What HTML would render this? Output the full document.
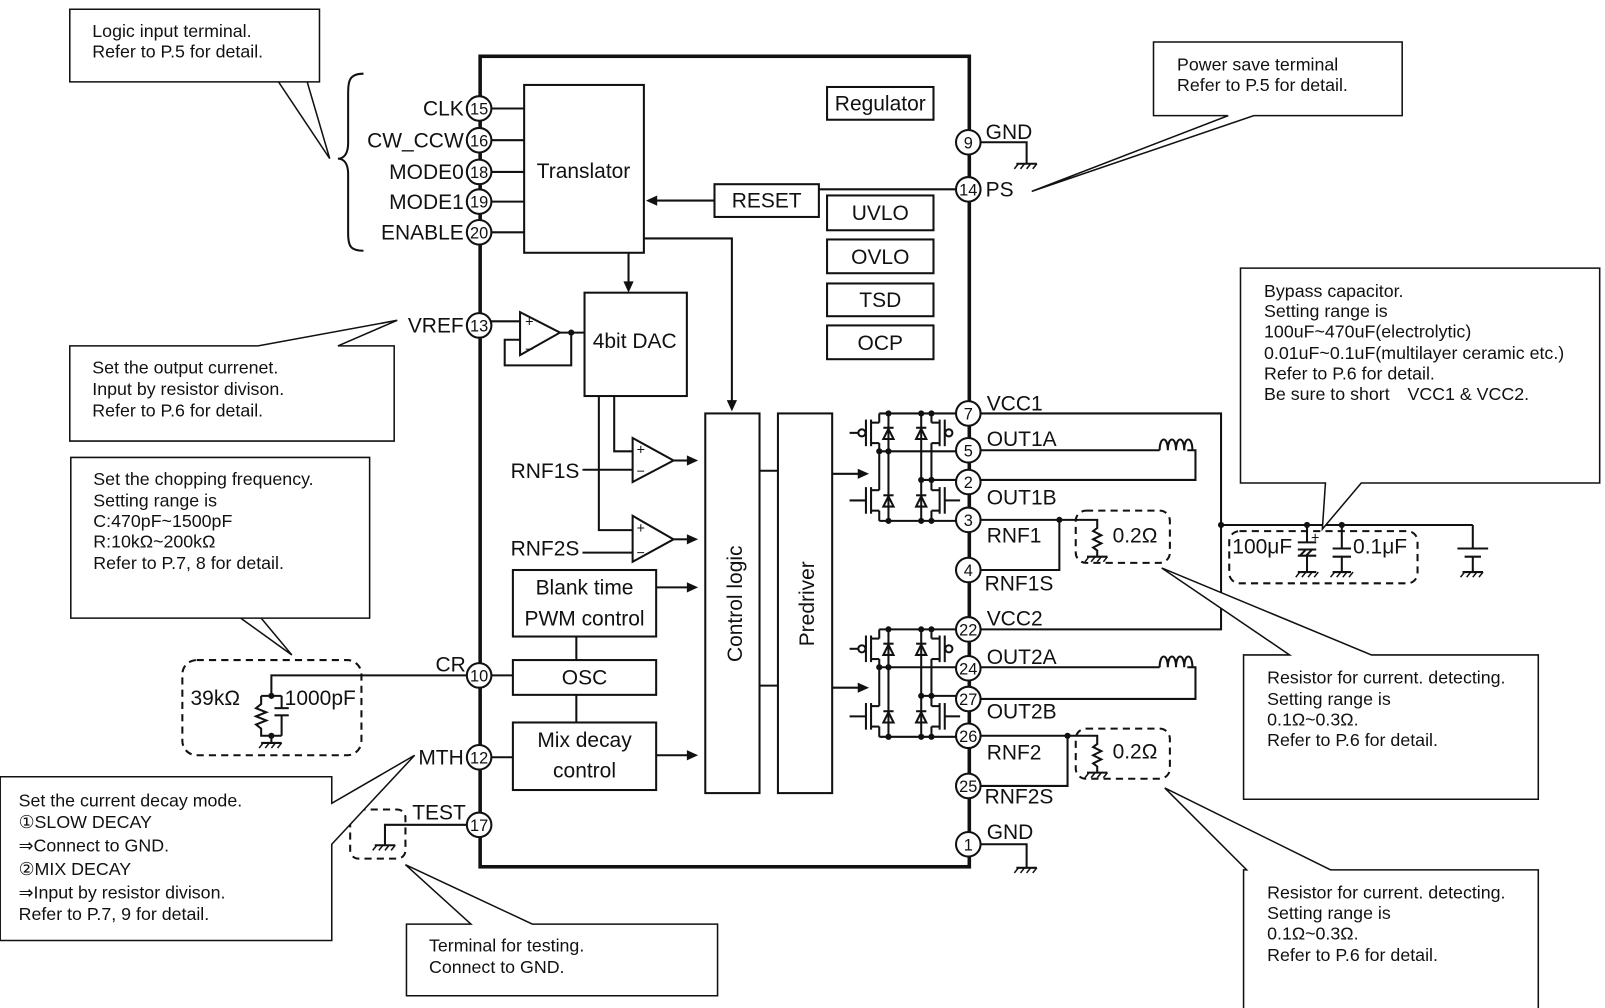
<!DOCTYPE html>
<html><head><meta charset="utf-8">
<style>
html,body{margin:0;padding:0;background:#fff;}
svg{display:block;}
text{font-family:"Liberation Sans","DejaVu Sans",sans-serif;fill:#111;}
.l{font-size:20.5px;}
.c{font-size:17.4px;}
</style></head>
<body>
<svg width="1605" height="1008" viewBox="0 0 1568 985" xmlns="http://www.w3.org/2000/svg">
<g fill="none" stroke="#111" stroke-width="2">

<rect x="469" y="55" width="478" height="792" stroke-width="3.5"/>

<rect x="512" y="83" width="117" height="164"/>
<line x1="480" y1="106" x2="512" y2="106"/>
<line x1="480" y1="137" x2="512" y2="137"/>
<line x1="480" y1="168" x2="512" y2="168"/>
<line x1="480" y1="197" x2="512" y2="197"/>
<line x1="480" y1="227" x2="512" y2="227"/>

<rect x="808" y="85" width="104" height="32"/>
<rect x="698" y="180" width="102" height="32"/>
<rect x="808" y="191" width="104" height="34"/>
<rect x="808" y="234" width="104" height="33"/>
<rect x="808" y="277" width="104" height="32"/>
<rect x="808" y="318" width="104" height="33"/>
<line x1="800" y1="185" x2="934" y2="185"/>
<line x1="698" y1="196" x2="640" y2="196"/>

<line x1="614" y1="247" x2="614" y2="278"/>
<polyline points="629,233 715,233 715,393"/>

<rect x="571" y="286" width="100" height="101"/>
<polygon points="508,305 547,325 508,347"/>
<line x1="480" y1="314" x2="508" y2="314"/>
<line x1="547" y1="325" x2="571" y2="325"/>
<polyline points="558,325 558,357 493,357 493,332 508,332"/>

<polygon points="618,428 658,450 618,471"/>
<polygon points="618,504 658,527 618,549"/>
<polyline points="600,387 600,441 618,441"/>
<polyline points="585,387 585,518 618,518"/>
<line x1="569" y1="459" x2="618" y2="459"/>
<line x1="569" y1="540" x2="618" y2="540"/>
<line x1="658" y1="450" x2="672" y2="450"/>
<line x1="658" y1="527" x2="672" y2="527"/>

<rect x="501" y="557" width="140" height="65"/>
<rect x="501" y="645" width="140" height="34"/>
<rect x="501" y="706" width="140" height="66"/>
<line x1="563" y1="622" x2="563" y2="645"/>
<line x1="563" y1="679" x2="563" y2="706"/>
<line x1="641" y1="574" x2="672" y2="574"/>
<line x1="641" y1="738" x2="672" y2="738"/>
<line x1="480" y1="660" x2="501" y2="660"/>
<line x1="480" y1="740" x2="501" y2="740"/>

<rect x="689" y="404" width="53" height="371"/>
<rect x="760" y="404" width="53" height="371"/>
<line x1="742" y1="460" x2="760" y2="460"/>
<line x1="742" y1="670" x2="760" y2="670"/>
<line x1="813" y1="463" x2="840" y2="463"/>
<line x1="813" y1="672" x2="840" y2="672"/>

<g id="hb">
<line x1="859" y1="404" x2="934" y2="404"/>
<line x1="859" y1="441" x2="934" y2="441"/>
<line x1="900" y1="469" x2="934" y2="469"/>
<line x1="859" y1="509" x2="934" y2="509"/>
<line x1="859" y1="404" x2="859" y2="413"/><line x1="859" y1="433" x2="859" y2="479"/><line x1="859" y1="499" x2="859" y2="509"/>
<line x1="851" y1="413" x2="859" y2="413"/><line x1="851" y1="433" x2="859" y2="433"/>
<line x1="851" y1="479" x2="859" y2="479"/><line x1="851" y1="499" x2="859" y2="499"/>
<line x1="851" y1="410" x2="851" y2="436"/><line x1="851" y1="476" x2="851" y2="502"/>
<line x1="846" y1="410" x2="846" y2="436"/><line x1="846" y1="476" x2="846" y2="502"/>
<line x1="830" y1="423" x2="838" y2="423"/><circle cx="842" cy="423" r="3.5"/>
<line x1="830" y1="489" x2="846" y2="489"/>
<line x1="868" y1="404" x2="868" y2="509"/>
<line x1="900" y1="404" x2="900" y2="509"/>
<line x1="910" y1="404" x2="910" y2="413"/><line x1="910" y1="433" x2="910" y2="479"/><line x1="910" y1="499" x2="910" y2="509"/>
<line x1="910" y1="413" x2="918" y2="413"/><line x1="910" y1="433" x2="918" y2="433"/>
<line x1="910" y1="479" x2="918" y2="479"/><line x1="910" y1="499" x2="918" y2="499"/>
<line x1="918" y1="410" x2="918" y2="436"/><line x1="918" y1="476" x2="918" y2="502"/>
<line x1="923" y1="410" x2="923" y2="436"/><line x1="923" y1="476" x2="923" y2="502"/>
<circle cx="927" cy="423" r="3.5"/><line x1="923" y1="489" x2="938" y2="489"/>
<polygon points="863,429 873,429 868,419"/><line x1="863" y1="418" x2="873" y2="418"/>
<polygon points="895,429 905,429 900,419"/><line x1="895" y1="418" x2="905" y2="418"/>
<polygon points="863,495 873,495 868,485"/><line x1="863" y1="484" x2="873" y2="484"/>
<polygon points="895,495 905,495 900,485"/><line x1="895" y1="484" x2="905" y2="484"/>
</g>
<use href="#hb" transform="translate(0,211)"/>

<polyline points="958,404 1193,404 1193,615 958,615"/>
<line x1="1193" y1="513" x2="1439" y2="513"/>
<line x1="958" y1="440" x2="1133" y2="440"/>
<polyline points="1160,440 1168,440 1168,469 958,469"/>
<path d="M1133,440 c0,-14 8,-14 8,0 c0,-14 8,-14 8,0 c0,-14 8,-14 8,0 c0,-14 8,-14 8,0" />
<line x1="958" y1="652" x2="1133" y2="652"/>
<polyline points="1160,652 1168,652 1168,683 958,683"/>
<path d="M1133,652 c0,-14 8,-14 8,0 c0,-14 8,-14 8,0 c0,-14 8,-14 8,0 c0,-14 8,-14 8,0" />

<polyline points="958,508 1035,508 1035,557 958,557"/>
<polyline points="1035,508 1072,508 1072,516 1068,519 1076,523 1068,527 1076,531 1068,535 1072,538 1072,544"/>
<line x1="1062" y1="544" x2="1082" y2="544"/>
<rect x="1051" y="499" width="92" height="51" rx="10" stroke-dasharray="7,5"/>
<polyline points="958,719 1043,719 1043,768 958,768"/>
<polyline points="1043,719 1072,719 1072,727 1068,730 1076,734 1068,738 1076,742 1068,746 1072,749 1072,755"/>
<line x1="1062" y1="755" x2="1082" y2="755"/>
<rect x="1051" y="712" width="92" height="49" rx="10" stroke-dasharray="7,5"/>

<polyline points="958,139 1003,139 1003,160"/>
<line x1="993" y1="160" x2="1013" y2="160"/>
<polyline points="958,825 1003,825 1003,848"/>
<line x1="993" y1="848" x2="1013" y2="848"/>

<line x1="1277" y1="513" x2="1277" y2="530"/>
<line x1="1268" y1="530" x2="1286" y2="530"/>
<path d="M1268,537 L1286,537 M1268,543 L1286,543 M1270,543 l6,-6 M1276,543 l6,-6"/>
<line x1="1277" y1="543" x2="1277" y2="559"/>
<line x1="1268" y1="559" x2="1286" y2="559"/>
<line x1="1311" y1="513" x2="1311" y2="536"/>
<line x1="1302" y1="536" x2="1320" y2="536"/>
<line x1="1302" y1="544" x2="1320" y2="544"/>
<line x1="1311" y1="544" x2="1311" y2="559"/>
<line x1="1302" y1="559" x2="1320" y2="559"/>
<rect x="1201" y="519" width="184" height="51" rx="10" stroke-dasharray="7,5"/>
<line x1="1439" y1="513" x2="1439" y2="536"/>
<line x1="1424" y1="536" x2="1454" y2="536"/>
<line x1="1431" y1="544" x2="1447" y2="544"/>
<line x1="1439" y1="544" x2="1439" y2="559"/>
<line x1="1429" y1="559" x2="1449" y2="559"/>

<rect x="178" y="645" width="175" height="93" rx="14" stroke-dasharray="7,5"/>
<polyline points="456,660 265,660 265,680"/>
<polyline points="255,680 275,680"/>
<polyline points="255,680 255,688 250,692 260,696 250,700 260,704 250,708 255,712 255,719 275,719"/>
<polyline points="275,680 275,692"/><line x1="268" y1="692" x2="282" y2="692"/>
<line x1="268" y1="699" x2="282" y2="699"/><polyline points="275,699 275,719"/>
<line x1="265" y1="719" x2="265" y2="726"/>
<line x1="255" y1="726" x2="275" y2="726"/>

<polyline points="456,806 376,806 376,826"/>
<line x1="366" y1="826" x2="386" y2="826"/>
<rect x="342" y="791" width="54" height="48" rx="8" stroke-dasharray="7,5"/>

<path d="M355,72 C340,72 340,80 340,95 L340,140 C340,150 336,155 330,155 C336,155 340,160 340,170 L340,228 C340,240 342,245 355,245"/>
</g>

<g stroke="#111" stroke-width="1.5">
<path d="M995,160 l-4,5 M1001,160 l-4,5 M1007,160 l-4,5 M1013,160 l-4,5"/>
<path d="M995,848 l-4,5 M1001,848 l-4,5 M1007,848 l-4,5 M1013,848 l-4,5"/>
<path d="M1064,544 l-4,5 M1070,544 l-4,5 M1076,544 l-4,5 M1082,544 l-4,5"/>
<path d="M1064,755 l-4,5 M1070,755 l-4,5 M1076,755 l-4,5 M1082,755 l-4,5"/>
<path d="M1270,559 l-4,5 M1276,559 l-4,5 M1282,559 l-4,5 M1288,559 l-4,5"/>
<path d="M1304,559 l-4,5 M1310,559 l-4,5 M1316,559 l-4,5 M1322,559 l-4,5"/>
<path d="M1431,559 l-4,5 M1437,559 l-4,5 M1443,559 l-4,5 M1449,559 l-4,5"/>
<path d="M257,726 l-4,5 M263,726 l-4,5 M269,726 l-4,5 M275,726 l-4,5"/>
<path d="M368,826 l-4,5 M374,826 l-4,5 M380,826 l-4,5 M386,826 l-4,5"/>
</g>

<g fill="#111">
<polygon points="631,196 642,191 642,201"/>
<polygon points="614,286 609,275 619,275"/>
<polygon points="715,402 710,391 720,391"/>
<polygon points="682,450 671,445 671,455"/>
<polygon points="682,527 671,522 671,532"/>
<polygon points="682,574 671,569 671,579"/>
<polygon points="682,738 671,733 671,743"/>
<polygon points="849,463 838,458 838,468"/>
<polygon points="849,672 838,667 838,677"/>
<circle cx="558" cy="325" r="3"/>
<circle cx="868" cy="404" r="3"/><circle cx="900" cy="404" r="3"/><circle cx="910" cy="404" r="3"/>
<circle cx="859" cy="441" r="3"/><circle cx="868" cy="441" r="3"/>
<circle cx="900" cy="469" r="3"/><circle cx="910" cy="469" r="3"/>
<circle cx="868" cy="509" r="3"/><circle cx="900" cy="509" r="3"/><circle cx="910" cy="509" r="3"/>
<circle cx="868" cy="615" r="3"/><circle cx="900" cy="615" r="3"/><circle cx="910" cy="615" r="3"/>
<circle cx="859" cy="652" r="3"/><circle cx="868" cy="652" r="3"/>
<circle cx="900" cy="680" r="3"/><circle cx="910" cy="680" r="3"/>
<circle cx="868" cy="720" r="3"/><circle cx="900" cy="720" r="3"/><circle cx="910" cy="720" r="3"/>
<circle cx="1035" cy="508" r="3"/><circle cx="1043" cy="719" r="3"/>
<circle cx="1193" cy="513" r="3"/><circle cx="1277" cy="513" r="3"/><circle cx="1311" cy="513" r="3"/>
<circle cx="265" cy="680" r="3"/><circle cx="265" cy="719" r="3"/>
</g>

<g fill="#fff" stroke="#111" stroke-width="2">
<circle cx="468" cy="106" r="12"/><circle cx="468" cy="137" r="12"/><circle cx="468" cy="168" r="12"/>
<circle cx="468" cy="197" r="12"/><circle cx="468" cy="227" r="12"/><circle cx="468" cy="318" r="12"/>
<circle cx="468" cy="660" r="12"/><circle cx="468" cy="740" r="12"/><circle cx="468" cy="806" r="12"/>
<circle cx="946" cy="139" r="12"/><circle cx="946" cy="185" r="12"/><circle cx="946" cy="404" r="12"/>
<circle cx="946" cy="440" r="12"/><circle cx="946" cy="471" r="12"/><circle cx="946" cy="508" r="12"/>
<circle cx="946" cy="557" r="12"/><circle cx="946" cy="615" r="12"/><circle cx="946" cy="653" r="12"/>
<circle cx="946" cy="683" r="12"/><circle cx="946" cy="719" r="12"/><circle cx="946" cy="768" r="12"/>
<circle cx="946" cy="825" r="12"/>
</g>
<g font-size="16" text-anchor="middle">
<text x="468" y="112">15</text><text x="468" y="143">16</text><text x="468" y="174">18</text>
<text x="468" y="203">19</text><text x="468" y="233">20</text><text x="468" y="324">13</text>
<text x="468" y="666">10</text><text x="468" y="746">12</text><text x="468" y="812">17</text>
<text x="946" y="145">9</text><text x="946" y="191">14</text><text x="946" y="410">7</text>
<text x="946" y="446">5</text><text x="946" y="477">2</text><text x="946" y="514">3</text>
<text x="946" y="563">4</text><text x="946" y="621">22</text><text x="946" y="659">24</text>
<text x="946" y="689">27</text><text x="946" y="725">26</text><text x="946" y="774">25</text>
<text x="946" y="831">1</text>
</g>

<g class="l">
<text x="453" y="113" text-anchor="end">CLK</text>
<text x="453" y="144" text-anchor="end">CW_CCW</text>
<text x="453" y="175" text-anchor="end">MODE0</text>
<text x="453" y="204" text-anchor="end">MODE1</text>
<text x="453" y="234" text-anchor="end">ENABLE</text>
<text x="453" y="325" text-anchor="end">VREF</text>
<text x="566" y="467" text-anchor="end">RNF1S</text>
<text x="566" y="543" text-anchor="end">RNF2S</text>
<text x="455" y="656" text-anchor="end">CR</text>
<text x="453" y="747" text-anchor="end">MTH</text>
<text x="455" y="801" text-anchor="end">TEST</text>
<text x="570" y="174" text-anchor="middle">Translator</text>
<text x="860" y="108" text-anchor="middle">Regulator</text>
<text x="749" y="203" text-anchor="middle">RESET</text>
<text x="860" y="215" text-anchor="middle">UVLO</text>
<text x="860" y="258" text-anchor="middle">OVLO</text>
<text x="860" y="300" text-anchor="middle">TSD</text>
<text x="860" y="342" text-anchor="middle">OCP</text>
<text x="620" y="340" text-anchor="middle">4bit DAC</text>
<text x="571" y="581" text-anchor="middle">Blank time</text>
<text x="571" y="611" text-anchor="middle">PWM control</text>
<text x="571" y="669" text-anchor="middle">OSC</text>
<text x="571" y="730" text-anchor="middle">Mix decay</text>
<text x="571" y="760" text-anchor="middle">control</text>
<text transform="translate(725,590) rotate(-90)" text-anchor="middle">Control logic</text>
<text transform="translate(795,590) rotate(-90)" text-anchor="middle">Predriver</text>
<text x="963" y="136">GND</text>
<text x="963" y="192">PS</text>
<text x="964" y="401">VCC1</text>
<text x="964" y="436">OUT1A</text>
<text x="964" y="493">OUT1B</text>
<text x="964" y="530">RNF1</text>
<text x="962" y="577">RNF1S</text>
<text x="964" y="611">VCC2</text>
<text x="964" y="649">OUT2A</text>
<text x="964" y="702">OUT2B</text>
<text x="964" y="742">RNF2</text>
<text x="962" y="785">RNF2S</text>
<text x="964" y="820">GND</text>
<text x="1087" y="530">0.2Ω</text>
<text x="1087" y="741">0.2Ω</text>
<text x="1204" y="541">100μF</text>
<text x="1322" y="541">0.1μF</text>
<text x="186" y="689">39kΩ</text>
<text x="278" y="689">1000pF</text>
</g>
<g font-size="14" text-anchor="middle"><text x="517" y="319">+</text><text x="517" y="346">−</text>
<text x="626" y="444">+</text><text x="626" y="465">−</text>
<text x="626" y="521">+</text><text x="626" y="545">−</text>
<text x="1285" y="530">+</text></g>

<g fill="#fff" stroke="#111" stroke-width="1.5">
<polygon points="68,9 312,9 312,80 272,80 322,155 300,80 68,80"/>
<polygon points="1127,41 1370,41 1370,113 1225,113 1008,187 1200,113 1127,113"/>
<polygon points="68,338 252,338 388,313 330,338 385,338 385,431 68,431"/>
<polygon points="69,447 361,447 361,604 235,604 285,640 255,604 69,604" />
<polygon points="0,759 324,759 324,785 405,738 324,825 324,919 0,919"/>
<polygon points="397,903 460,903 396,845 520,903 701,903 701,973 397,973"/>
<polygon points="1212,262 1563,262 1563,472 1330,472 1292,517 1295,472 1212,472"/>
<polygon points="1215,640 1260,640 1135,555 1340,640 1503,640 1503,781 1215,781"/>
<polygon points="1215,850 1218,850 1138,770 1300,850 1503,850 1503,990 1215,990"/>
</g>
<g class="c">
<text x="90" y="36">Logic input terminal.</text>
<text x="90" y="56">Refer to P.5 for detail.</text>
<text x="1150" y="69">Power save terminal</text>
<text x="1150" y="89">Refer to P.5 for detail.</text>
<text x="90" y="365">Set the output currenet.</text>
<text x="90" y="386">Input by resistor divison.</text>
<text x="90" y="407">Refer to P.6 for detail.</text>
<text x="91" y="474">Set the chopping frequency.</text>
<text x="91" y="495">Setting range is</text>
<text x="91" y="515">C:470pF~1500pF</text>
<text x="91" y="535">R:10kΩ~200kΩ</text>
<text x="91" y="556">Refer to P.7, 8 for detail.</text>
<text x="18" y="788">Set the current decay mode.</text>
<text x="18" y="809">①SLOW DECAY</text>
<text x="18" y="832">⇒Connect to GND.</text>
<text x="18" y="855">②MIX DECAY</text>
<text x="18" y="878">⇒Input by resistor divison.</text>
<text x="18" y="899">Refer to P.7, 9 for detail.</text>
<text x="419" y="930">Terminal for testing.</text>
<text x="419" y="951">Connect to GND.</text>
<text x="1235" y="290">Bypass capacitor.</text>
<text x="1235" y="310">Setting range is</text>
<text x="1235" y="330">100uF~470uF(electrolytic)</text>
<text x="1235" y="351">0.01uF~0.1uF(multilayer ceramic etc.)</text>
<text x="1235" y="371">Refer to P.6 for detail.</text>
<text x="1235" y="391">Be sure to short　VCC1 &amp; VCC2.</text>
<text x="1238" y="668">Resistor for current. detecting.</text>
<text x="1238" y="689">Setting range is</text>
<text x="1238" y="709">0.1Ω~0.3Ω.</text>
<text x="1238" y="729">Refer to P.6 for detail.</text>
<text x="1238" y="878">Resistor for current. detecting.</text>
<text x="1238" y="898">Setting range is</text>
<text x="1238" y="918">0.1Ω~0.3Ω.</text>
<text x="1238" y="939">Refer to P.6 for detail.</text>
</g>
</svg>
</body></html>
